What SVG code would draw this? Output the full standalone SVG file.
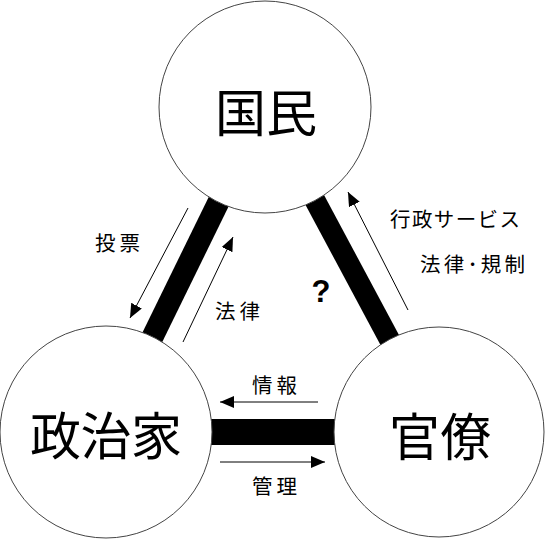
<svg xmlns="http://www.w3.org/2000/svg" width="546" height="539" viewBox="0 0 546 539">
<style>
.node{fill:#fff;stroke:#444;stroke-width:1}
.big{font-family:"Noto Sans CJK JP","Noto Sans",sans-serif;font-size:51px;fill:#000;text-anchor:middle}
.lbl{font-family:"Noto Sans CJK JP","Noto Sans",sans-serif;font-size:20.5px;fill:#000}
.bar{stroke:#000}
.arr{stroke:#000;stroke-width:1;fill:none;marker-end:url(#ah)}
</style>
<defs>
<marker id="ah" markerUnits="userSpaceOnUse" markerWidth="16" markerHeight="14" refX="14" refY="6" orient="auto">
<path d="M0,0 L14,6 L0,12 Z" fill="#000"/>
</marker>
</defs>
<g id="connectors">
<line class="bar" x1="265" y1="107" x2="106" y2="432" stroke-width="22"/>
<line class="bar" x1="265" y1="107" x2="439" y2="432" stroke-width="21"/>
<line class="bar" x1="106" y1="432" x2="439" y2="432" stroke-width="26"/>
<line class="arr" x1="188" y1="208" x2="130" y2="318"/>
<line class="arr" x1="183" y1="342" x2="233" y2="237"/>
<line class="arr" x1="408" y1="310" x2="348" y2="192"/>
<line class="arr" x1="318" y1="402" x2="220" y2="402"/>
<line class="arr" x1="220" y1="462" x2="325" y2="462"/>
</g>
<g id="kokumin">
<circle class="node" cx="265" cy="107" r="106"/>
<text class="big" x="266" y="132">国民</text>
</g>
<g id="seijika">
<circle class="node" cx="106" cy="432" r="106"/>
<text class="big" x="106" y="455" textLength="152" lengthAdjust="spacing">政治家</text>
</g>
<g id="kanryo">
<circle class="node" cx="439" cy="432" r="105"/>
<text class="big" x="440" y="456">官僚</text>
</g>
<g id="labels">
<text class="lbl" x="95" y="251" textLength="45" lengthAdjust="spacing">投票</text>
<text class="lbl" x="215" y="319" textLength="45" lengthAdjust="spacing">法律</text>
<text class="lbl" x="390" y="227" textLength="130" lengthAdjust="spacing">行政サービス</text>
<text class="lbl" x="420" y="272" textLength="105" lengthAdjust="spacing">法律･規制</text>
<text class="lbl" x="252" y="393" textLength="45" lengthAdjust="spacing">情報</text>
<text class="lbl" x="252" y="494" textLength="45" lengthAdjust="spacing">管理</text>
<text x="321" y="302" font-family="Liberation Sans,Arial,sans-serif" font-size="31" font-weight="bold" text-anchor="middle">?</text>
</g>
</svg>
